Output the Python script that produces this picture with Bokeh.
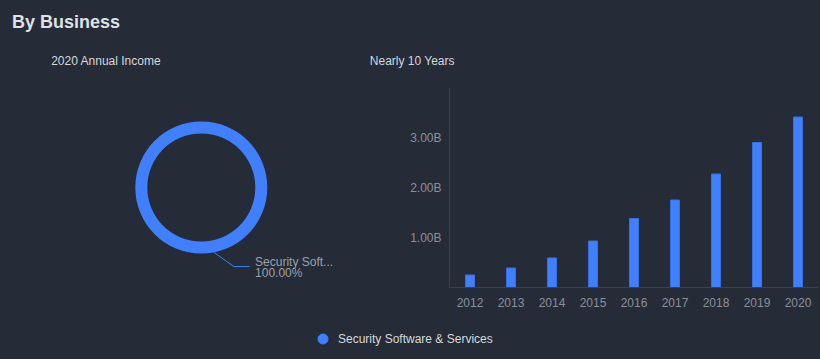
import numpy as np
from bokeh.plotting import figure
from bokeh.models import (Range1d, FactorRange, FixedTicker, PrintfTickFormatter,
                          Label, Legend, LegendItem)
from bokeh.layouts import column, row
from bokeh.embed import file_html
from bokeh.resources import INLINE

# ---------------- data ----------------
years = ["2012", "2013", "2014", "2015", "2016", "2017", "2018", "2019", "2020"]
revenue_b = [0.25, 0.39, 0.59, 0.93, 1.38, 1.75, 2.27, 2.90, 3.41]   # billions
segments = ["Security Software & Services"]
segment_share = [100.0]                                               # percent, 2020
y_ticks = [1.0, 2.0, 3.0]
main_title = "By Business"
donut_title = "2020 Annual Income"
bar_title = "Nearly 10 Years"

# ---------------- style ----------------
BG = "#252b37"
BLUE = "#4080ff"
BLUE_EDGE = "#3a6fe0"
AXIS = "#3a4250"
TICK_TXT = "#8a909b"
TITLE_TXT = "#dfe1e5"
SUB_TXT = "#d6d8dc"
LBL_TXT = "#9ca1ab"
FONT = "Liberation Sans"

W, H = 820, 359          # whole page (page coords: x right, y down)
TOP_H = 87               # title strip
BOT_H = 39               # legend strip
MID_H = H - TOP_H - BOT_H
SPLIT = 350              # boundary between donut and bar panels
FRAME_L, FRAME_R, AXIS_Y = 449, 818, 287


def Y(page_y):
    """page y (down) -> data y (up) for the pixel-mapped panels"""
    return H - page_y


def base(w, h, **kw):
    return figure(width=w, height=h, output_backend="svg", toolbar_location=None,
                  background_fill_color=BG, border_fill_color=BG,
                  outline_line_color=None, **kw)


def txt(p, x, y, text, size="12px", color=SUB_TXT, style="normal"):
    p.add_layout(Label(x=x, y=Y(y), text=text, text_baseline="middle", text_align="left",
                       text_font=FONT, text_font_size=size, text_font_style=style,
                       text_color=color))


# ---------------- top strip: titles ----------------
D = base(W, TOP_H, x_range=Range1d(0, W), y_range=Range1d(Y(TOP_H), Y(0)),
         x_axis_type=None, y_axis_type=None, min_border=0)
D.grid.visible = False
txt(D, 11.5, 21, main_title, size="18px", color=TITLE_TXT, style="bold")
txt(D, 50.7, 60, donut_title)
txt(D, 369.3, 60, bar_title)

# ---------------- left panel: donut ----------------
A = base(SPLIT, MID_H, x_range=Range1d(0, SPLIT), y_range=Range1d(Y(AXIS_Y), Y(TOP_H)),
         x_axis_type=None, y_axis_type=None,
         min_border_left=0, min_border_right=0, min_border_top=0,
         min_border_bottom=TOP_H + MID_H - AXIS_Y)
A.grid.visible = False

cx, cy, r_in, r_out = 200.8, 187.0, 54.0, 66.0
fr = np.array(segment_share) / np.sum(segment_share)
ends = np.cumsum(fr)
starts = ends - fr
start_ang = np.pi / 2 - ends * 2 * np.pi
end_ang = np.pi / 2 - starts * 2 * np.pi
A.annular_wedge(x=[cx] * len(fr), y=[Y(cy)] * len(fr), inner_radius=r_in,
                outer_radius=r_out, start_angle=start_ang, end_angle=end_ang,
                fill_color=BLUE, line_color=None)

# leader line + label
ang = np.deg2rad(79)
p0 = (cx + r_out * np.cos(ang), cy + r_out * np.sin(ang))
p1 = (p0[0] + 20, p0[1] + 14.3)
p2 = (p1[0] + 15.7, p1[1])
A.line(x=[p0[0], p1[0], p2[0]], y=[Y(p0[1]), Y(p1[1]), Y(p2[1])],
       line_color=BLUE, line_width=1)
name_short = segments[0][:13] + "..."
txt(A, p2[0] + 5.5, p2[1] - 4.5, name_short, color=LBL_TXT)
txt(A, p2[0] + 5.5, p2[1] + 6.2, f"{segment_share[0]:.2f}%", color=LBL_TXT)

# ---------------- right panel: bars ----------------
B = base(W - SPLIT, MID_H, x_range=FactorRange(factors=years), y_range=Range1d(0, 4),
         min_border_left=FRAME_L - SPLIT, min_border_right=W - FRAME_R,
         min_border_top=0, min_border_bottom=TOP_H + MID_H - AXIS_Y)
B.vbar(x=years, top=revenue_b, width=0.22, fill_color=BLUE, line_color=BLUE_EDGE, line_width=1)
B.grid.visible = False

for ax in (B.xaxis[0], B.yaxis[0]):
    ax.axis_line_color = AXIS
    ax.axis_line_width = 1
    ax.major_tick_line_color = None
    ax.minor_tick_line_color = None
    ax.major_tick_out = 0
    ax.major_tick_in = 0
    ax.minor_tick_out = 0
    ax.major_label_text_color = TICK_TXT
    ax.major_label_text_font = FONT
    ax.major_label_text_font_size = "12px"
B.xaxis.major_label_standoff = 10
B.yaxis.major_label_standoff = 8
B.yaxis.ticker = FixedTicker(ticks=y_ticks)
B.yaxis.formatter = PrintfTickFormatter(format="%.2fB")

# ---------------- bottom strip: legend ----------------
C = base(W, BOT_H, x_range=Range1d(0, W), y_range=Range1d(0, BOT_H),
         x_axis_type=None, y_axis_type=None, min_border=0)
C.grid.visible = False
proxy = C.scatter(x=[-100] * len(segments), y=[-100] * len(segments), size=10,
                  fill_color=BLUE, line_color=BLUE)
legend = Legend(items=[LegendItem(label=s, renderers=[proxy]) for s in segments],
                location=(310, 8), orientation="horizontal",
                glyph_width=25, glyph_height=25, label_standoff=3,
                padding=0, margin=0, spacing=0,
                border_line_alpha=0, background_fill_alpha=0,
                label_text_font=FONT, label_text_font_size="12px",
                label_text_color=SUB_TXT, label_text_baseline="middle")
C.add_layout(legend)

layout = column(D, row(A, B, spacing=0), C, spacing=0)

html = file_html(layout, INLINE).replace("<body>", f'<body style="background:{BG};">')
open("out.html", "w").write(html)
